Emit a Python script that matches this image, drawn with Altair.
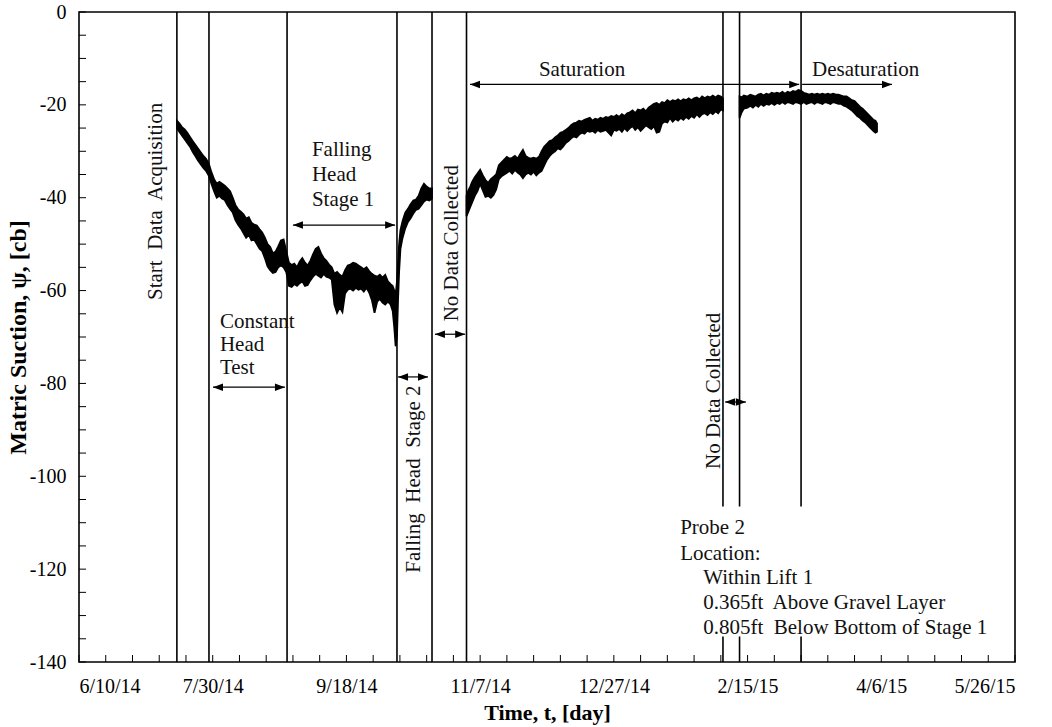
import altair as alt
import pandas as pd

# ---------------- data (days since 6/10/14, matric suction in cb) ----------------
seg1_days = [36.6, 37.5, 38.5, 39.5, 40.5, 41.5, 42.5, 43.5, 44.5, 45.5, 46.5, 47.5, 48.5, 49.5, 50.5,
             51.5, 52.5, 53.5, 54.5, 55.5, 56.5, 57.5, 58.5, 59.5, 60.5, 61.5, 62.5, 63.5, 64.5, 65.5,
             66.5, 67.5, 68.5, 69.5, 70.5, 71.5, 72.5, 73.5, 74.5, 75.5, 76.5, 77.5, 78.5, 79.5, 80.5,
             81.5, 82.5, 83.5, 84.5, 85.5, 86.5, 87.5, 88.5, 89.5, 90.5, 91.5, 92.5, 93.5, 94.5, 95.5,
             96.5, 97.5, 98.5, 99.5, 100.5, 101.5, 102.5, 103.5, 104.5, 105.5, 106.5, 107.5, 108.5, 109.5,
             110.5, 111.5, 112.5, 113.5, 114.5, 115.5, 116.5, 117.3, 117.9, 118.4, 118.9, 119.3, 119.7,
             120.2, 121, 122, 123, 124, 125, 126, 127, 128, 129, 130, 131, 132]
seg1_hi = [-23.4, -24.0, -24.8, -25.3, -26.0, -26.9, -27.8, -28.6, -29.4, -30.2, -31.0, -31.6, -32.6, -34.5, -36.0,
           -37.0, -36.6, -37.0, -37.4, -38.0, -38.6, -40.0, -41.6, -42.5, -43.0, -43.6, -44.5, -44.2, -45.4, -45.8,
           -46.0, -46.8, -47.5, -48.6, -50.0, -50.6, -52.0, -51.6, -50.5, -49.2, -49.0, -51.5, -54.0, -54.5, -54.2,
           -55.0, -53.8, -53.0, -54.0, -54.6, -53.6, -52.2, -51.0, -50.6, -52.0, -53.0, -53.6, -54.4, -55.0, -56.4,
           -56.0, -56.6, -57.0, -55.6, -54.6, -54.4, -54.0, -54.2, -54.6, -55.0, -55.4, -55.0, -55.8, -56.4,
           -56.8, -57.0, -56.6, -57.2, -56.6, -58.0, -58.6, -59.0, -60.0, -61.0, -58.0, -54.0, -50.0,
           -47.0, -45.0, -43.2, -42.4, -41.4, -40.6, -40.4, -39.6, -38.0, -37.0, -37.6, -38.0, -38.0]
seg1_lo = [-25.0, -25.8, -26.6, -27.4, -28.2, -29.0, -30.1, -31.0, -32.0, -32.8, -33.6, -34.2, -35.2, -37.0, -38.6,
           -40.0, -39.6, -40.2, -40.5, -41.6, -42.4, -43.2, -44.8, -45.8, -46.6, -47.6, -48.6, -48.0, -49.2, -49.0,
           -50.0, -51.0, -51.5, -53.0, -54.8, -55.6, -56.2, -56.0, -55.0, -54.6, -55.0, -56.0, -59.0, -59.2, -58.6,
           -59.0, -58.4, -58.0, -59.0, -58.8, -57.8, -57.0, -56.4, -56.8, -57.2, -56.4, -57.0, -57.2, -57.6, -63.0,
           -64.8, -63.6, -64.6, -60.6, -59.8, -59.6, -60.0, -59.4, -59.8, -59.6, -60.2, -59.4, -60.4, -62.0,
           -64.8, -62.4, -61.8, -62.6, -63.0, -62.4, -63.0, -64.4, -68.0, -72.0, -70.0, -62.0, -56.0,
           -51.0, -48.6, -46.6, -45.2, -44.4, -43.4, -42.6, -42.4, -41.6, -40.8, -40.4, -40.6, -40.2]

seg2_days = [144.9, 145.6, 146.3, 147, 148, 149, 150, 151, 152, 153, 154, 155, 156, 157, 158, 159, 160,
             161, 162, 163, 164, 165, 166, 167, 168, 169, 170, 171, 172, 173, 174, 175, 176, 177, 178, 179,
             180, 181, 182, 183, 184, 185, 186, 187, 188, 189, 190, 191, 192, 193, 194, 195, 196, 197, 198,
             199, 200, 201, 202, 203, 204, 205, 206, 207, 208, 209, 210, 211, 212, 213, 214, 215, 216, 217,
             218, 219, 220, 221, 222, 223, 224, 225, 226, 227, 228, 229, 230, 231, 232, 233, 234, 235, 236,
             237, 238, 239, 240, 240.8]
seg2_hi = [-39.6, -38.4, -37.6, -36.6, -35.6, -34.8, -34.0, -35.2, -36.2, -36.8, -36.0, -35.5, -35.0, -33.0, -32.4, -31.8, -31.2,
           -31.6, -31.4, -31.0, -31.6, -30.6, -29.7, -31.0, -31.4, -31.6, -31.4, -31.6, -31.2, -30.0, -29.0, -28.4, -27.8, -27.6, -27.0, -26.6,
           -26.0, -25.8, -25.4, -25.0, -24.4, -24.0, -23.8, -23.4, -23.6, -23.2, -23.0, -22.8, -23.4, -23.0, -23.2, -22.8, -23.0, -22.6, -22.8,
           -22.4, -22.6, -22.2, -22.6, -22.0, -22.4, -21.8, -21.6, -21.2, -21.8, -21.0, -21.2, -20.8, -21.4, -20.6, -20.2, -19.8, -19.6, -20.0,
           -19.4, -19.6, -19.0, -19.4, -19.0, -19.2, -18.8, -19.2, -18.8, -19.0, -18.6, -19.0, -18.6, -18.4, -18.8, -18.2, -18.6, -18.2, -18.4,
           -18.0, -18.4, -18.0, -18.2, -18.6]
seg2_lo = [-44.0, -43.0, -42.0, -41.0, -39.6, -38.6, -37.0, -38.4, -39.8, -39.6, -40.0, -39.4, -38.2, -36.0, -35.4, -35.0, -34.6,
           -34.2, -34.8, -34.0, -34.6, -35.0, -35.8, -35.0, -34.6, -35.0, -34.4, -35.2, -34.6, -34.2, -33.0, -31.8, -31.0, -30.4, -30.0, -29.4,
           -29.6, -29.0, -28.2, -27.8, -27.2, -26.8, -27.0, -26.4, -26.0, -26.2, -25.6, -25.8, -25.6, -26.0, -25.4, -25.8, -25.6, -25.4, -26.0,
           -26.6, -25.4, -25.6, -25.2, -25.8, -25.0, -25.6, -25.0, -24.6, -25.4, -24.8, -25.6, -25.0, -24.4, -24.8, -25.2, -24.6, -26.0, -25.8,
           -24.0, -23.6, -23.8, -22.8, -23.6, -23.0, -23.4, -22.8, -23.2, -22.6, -23.0, -22.4, -22.8, -22.0, -22.6, -22.0, -21.8, -22.2, -21.6,
           -22.0, -21.4, -21.8, -21.0, -21.2]

seg3_days = [247.0, 247.8, 248.6, 250, 251, 252, 253, 254, 255, 256, 257, 258, 259, 260, 261, 262, 263, 264, 265,
             266, 267, 268, 269, 270, 271, 272, 273, 274, 275, 276, 277, 278, 279, 280, 281, 282, 283, 284, 285,
             286, 287, 288, 289, 290, 291, 292, 293, 294, 295, 296, 297, 297.8, 298.4]
seg3_hi = [-18.2, -18.4, -18.0, -18.2, -17.8, -18.0, -18.2, -17.8, -17.6, -18.0, -17.6, -17.8, -17.4, -17.6, -17.4, -17.6, -17.2, -17.6, -17.2,
           -17.4, -17.0, -17.2, -16.8, -17.0, -17.4, -17.6, -17.8, -17.6, -17.8, -17.6, -17.8, -17.6, -17.8, -17.6, -17.8, -17.6, -17.8, -17.8, -18.0,
           -18.2, -18.2, -18.6, -19.0, -19.2, -19.8, -20.4, -20.8, -21.4, -22.0, -22.6, -23.2, -23.4, -24.0]
seg3_lo = [-22.8, -21.6, -20.8, -20.6, -20.2, -20.6, -20.0, -20.4, -19.8, -20.2, -19.8, -20.0, -19.6, -20.0, -19.6, -19.8, -19.4, -19.8, -19.4,
           -19.6, -19.8, -19.4, -19.6, -19.8, -19.4, -19.8, -19.6, -19.4, -19.8, -19.4, -19.6, -19.8, -19.4, -19.6, -19.8, -19.4, -19.6, -19.8, -19.8,
           -20.2, -20.4, -20.8, -21.2, -21.8, -22.4, -22.8, -23.4, -23.8, -24.4, -25.0, -25.6, -26.0, -25.8]

# axis ticks
x_tick_days = [0, 50, 100, 150, 200, 250, 300, 350]
x_tick_labels = ["6/10/14", "7/30/14", "9/18/14", "11/7/14", "12/27/14", "2/15/15", "4/6/15", "5/26/15"]
x_minor_days = [0, 10, 20, 30, 40, 50, 60, 70, 80, 90, 100, 110, 120, 130, 140, 150, 160, 170, 180,
                190, 200, 210, 220, 230, 240, 250, 260, 270, 280, 290, 300, 310, 320, 330, 340, 350]
y_ticks = [-140, -120, -100, -80, -60, -40, -20, 0]
y_minor = [-140, -135, -130, -125, -120, -115, -110, -105, -100, -95, -90, -85, -80, -75, -70, -65,
           -60, -55, -50, -45, -40, -35, -30, -25, -20, -15, -10, -5, 0]

# event lines (days)
full_lines = [36.6, 48.6, 77.8, 118.9, 132.0, 144.9]
part_lines = [240.8, 247.0, 270.0]
part_top, part_bottom = 0, -106.5
stub_top = -134.5

# arrows: start day, end day, value, left head, right head
arrow_x1 = [50.1, 80.0, 119.3, 133.1, 146.2, 270.4, 241.6]
arrow_x2 = [77.0, 118.2, 130.5, 144.4, 269.3, 304.0, 249.4]
arrow_y = [-80.8, -45.9, -78.6, -69.4, -15.6, -15.6, -84.0]
arrow_left = [True, True, True, True, True, False, True]
arrow_right = [True, True, True, True, True, True, True]

# left-aligned horizontal texts
ltext = ["Falling", "Head", "Stage 1", "Constant", "Head", "Test", "Desaturation",
         "Probe 2", "Location:", "Within Lift 1", "0.365ft\u00a0 Above Gravel Layer",
         "0.805ft\u00a0 Below Bottom of Stage 1"]
ltext_x = [87.1, 87.1, 87.1, 52.7, 52.7, 52.7, 274.1, 224.8, 224.8, 233.4, 233.4, 233.4]
ltext_y = [-29.7, -35.1, -40.5, -66.8, -71.7, -76.7, -12.5, -111.1, -116.7, -121.9, -127.3, -132.7]
# centered horizontal texts
ctext = ["Saturation"]
ctext_x = [188.1]
ctext_y = [-12.5]
# rotated texts
rtext = ["Start\u00a0 Data\u00a0 Acquisition", "Falling\u00a0 Head\u00a0 Stage 2", "No Data Collected", "No Data Collected"]
rtext_x = [28.8, 125.3, 139.5, 237.5]
rtext_y = [-40.8, -100.6, -49.8, -81.6]

# ---------------- build ----------------
W, H = 936, 650
FONT = "Liberation Serif"

curve = pd.concat([
    pd.DataFrame({"day": seg1_days, "hi": seg1_hi, "lo": seg1_lo, "seg": 1}),
    pd.DataFrame({"day": seg2_days, "hi": seg2_hi, "lo": seg2_lo, "seg": 2}),
    pd.DataFrame({"day": seg3_days, "hi": seg3_hi, "lo": seg3_lo, "seg": 3}),
])

label_expr = "{}[indexof({}, datum.value)]".format(
    "[" + ",".join("'%s'" % s for s in x_tick_labels) + "]",
    "[" + ",".join(str(v) for v in x_tick_days) + "]",
)

xscale = alt.Scale(domain=[0, 350], nice=False, zero=False)
yscale = alt.Scale(domain=[-140, 0], nice=False, zero=False)

xaxis = alt.Axis(values=x_tick_days, labelExpr=label_expr, ticks=False, domain=False, grid=False,
                 labelOverlap=False, labelFont=FONT, labelFontSize=20, labelColor="black", labelPadding=14,
                 title="Time, t, [day]", titleFont=FONT, titleFontSize=22, titleFontWeight="bold",
                 titleColor="black", titleX=W / 2, titleY=50, titleBaseline="middle", titleAlign="center")
yaxis = alt.Axis(values=y_ticks, labelExpr="'' + datum.value", ticks=False, domain=False, grid=False,
                 labelOverlap=False, labelFont=FONT, labelFontSize=20, labelColor="black", labelPadding=13,
                 title="Matric Suction, ψ, [cb]", titleFont=FONT, titleFontSize=24, titleFontWeight="bold",
                 titleColor="black", titleX=-61, titleY=H / 2, titleAngle=270,
                 titleBaseline="middle", titleAlign="center")


def X(field):
    return alt.X(field, scale=xscale, axis=xaxis)


def Y(field):
    return alt.Y(field, scale=yscale, axis=yaxis)


area = alt.Chart(curve).mark_area(color="black", stroke="black", strokeWidth=1.8).encode(
    x=X("day:Q"), y=Y("hi:Q"), y2="lo:Q", detail="seg:N",
)

fl = alt.Chart(pd.DataFrame({"day": full_lines, "top": 0, "bot": -140})).mark_rule(
    color="black", strokeWidth=1.6).encode(x=X("day:Q"), y=Y("top:Q"), y2="bot:Q")
pl = alt.Chart(pd.DataFrame({"day": part_lines, "top": part_top, "bot": part_bottom})).mark_rule(
    color="black", strokeWidth=1.6).encode(x=X("day:Q"), y=Y("top:Q"), y2="bot:Q")
stubs = alt.Chart(pd.DataFrame({"day": part_lines, "top": stub_top, "bot": -140})).mark_rule(
    color="black", strokeWidth=1.6).encode(x=X("day:Q"), y=Y("top:Q"), y2="bot:Q")

arr = pd.DataFrame({"x1": arrow_x1, "x2": arrow_x2, "y": arrow_y, "l": arrow_left, "r": arrow_right})
shafts = alt.Chart(arr).mark_rule(color="black", strokeWidth=1.2).encode(
    x=X("x1:Q"), x2="x2:Q", y=Y("y:Q"))
rheads = alt.Chart(arr[arr.r]).mark_point(filled=True, color="black", opacity=1, size=100,
                                           shape="M0,0L-2,-0.75L-2,0.75Z").encode(
    x=X("x2:Q"), y=Y("y:Q"))
lheads = alt.Chart(arr[arr.l]).mark_point(filled=True, color="black", opacity=1, size=100,
                                           shape="M0,0L2,-0.75L2,0.75Z").encode(
    x=X("x1:Q"), y=Y("y:Q"))

ltxt = alt.Chart(pd.DataFrame({"t": ltext, "x": ltext_x, "y": ltext_y})).mark_text(
    font=FONT, fontSize=21, color="#111", align="left", baseline="middle").encode(
    x=X("x:Q"), y=Y("y:Q"), text="t:N")
ctxt = alt.Chart(pd.DataFrame({"t": ctext, "x": ctext_x, "y": ctext_y})).mark_text(
    font=FONT, fontSize=21, color="#111", align="center", baseline="middle").encode(
    x=X("x:Q"), y=Y("y:Q"), text="t:N")
rtxt = alt.Chart(pd.DataFrame({"t": rtext, "x": rtext_x, "y": rtext_y})).mark_text(
    font=FONT, fontSize=21, color="#111", align="center", baseline="middle", angle=270).encode(
    x=X("x:Q"), y=Y("y:Q"), text="t:N")

xt = alt.Chart(pd.DataFrame({"d": x_minor_days})).mark_rule(color="black", strokeWidth=1).encode(
    x=X("d:Q"), y=alt.value(H), y2=alt.value(H - 7))
yt = alt.Chart(pd.DataFrame({"v": y_minor})).mark_rule(color="black", strokeWidth=1).encode(
    y=Y("v:Q"), x=alt.value(0), x2=alt.value(7))

chart = alt.layer(area, fl, pl, stubs, shafts, rheads, lheads, ltxt, ctxt, rtxt, xt, yt).properties(
    width=W, height=H,
    autosize=alt.AutoSizeParams(type="none"),
    padding={"left": 79, "top": 12, "right": 37, "bottom": 65},
    background="white",
).configure_view(stroke="black", strokeWidth=1.6)

chart.save("out.html", embed_options={"renderer": "svg", "actions": False})
